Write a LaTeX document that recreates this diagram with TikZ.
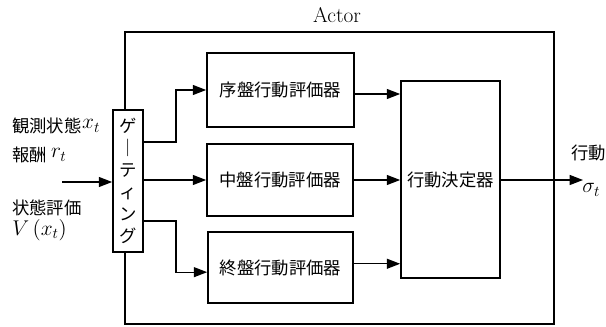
\RequirePackage{fix-cm}
\documentclass[tikz,border=0pt]{standalone}
\usepackage{fontspec}
\newfontfamily\jp{Noto Sans CJK JP}
\usetikzlibrary{arrows.meta}
\begin{document}
\begin{tikzpicture}[x=0.75pt,y=-0.75pt,
  box/.style={draw, line width=1.3pt, fill=white, inner sep=0pt},
  conn/.style={line width=0.9pt, -{Triangle[length=10pt,width=7.5pt]}},
  jtxt/.style={font=\jp\fontsize{13}{16.5}\selectfont},
  lbl/.style={jtxt, anchor=west, inner sep=0pt},
  mth/.style={anchor=west, inner sep=0pt, font=\fontsize{16}{19}\selectfont}]
\useasboundingbox (0,0) rectangle (606,327);
% outer Actor box
\node[draw, line width=1.3pt, minimum width=321.75pt, minimum height=219pt, inner sep=0pt] (actor) at (339.5,178) {};
\node[font=\fontsize{16}{19}\selectfont] (actorlbl) at (337,15) {Actor};
% gating
\node[box, minimum width=22.5pt, minimum height=106.5pt, jtxt, align=center] (gate) at (128,181)
  {ゲ\\｜\\テ\\ィ\\ン\\グ};
% evaluators
\node[box, minimum width=110.25pt, minimum height=55.5pt, jtxt] (e1) at (280.5,90) {序盤行動評価器};
\node[box, minimum width=109.5pt, minimum height=54pt, jtxt] (e2) at (280,180) {中盤行動評価器};
\node[box, minimum width=108.75pt, minimum height=53.25pt, jtxt] (e3) at (280.5,267.5) {終盤行動評価器};
% decision
\node[box, minimum width=74.25pt, minimum height=147.75pt, jtxt] (dec) at (450.5,179.5) {行動決定器};
% input labels
\node[lbl] (obs) at (12,126) {観測状態};
\node[mth] (obsx) at (obs.east) {$x_{t}$};
\node[lbl] (rew) at (12,155) {報酬};
\node[mth] (rewr) at (rew.east) {\,$r_{t}$};
\node[lbl] (val) at (12,208) {状態評価};
\node[mth] (vx) at (12,230) {$V\,(x_{t})$};
% output labels
\node[lbl] (act) at (571,153) {行動};
\node[mth] (sig) at (582,190) {$\sigma_{t}$};
% connectors
\coordinate (inbeg) at (62,182);
\draw[conn] (inbeg) -- (inbeg -| gate.west);
\coordinate (b1) at (176,142);
\coordinate (b3) at (176,221);
\draw[conn] (b1 -| gate.east) -- (b1) |- (e1.west);
\draw[conn] (gate.east |- e2.west) -- (e2.west);
\draw[conn] (b3 -| gate.east) -- (b3) |- ([yshift=-3.5pt]e3.west);
\draw[conn] ([yshift=-3pt]e1.east) -- ([yshift=-3pt]e1.east -| dec.west);
\draw[conn] (e2.east) -- (e2.east -| dec.west);
\draw[conn] ([yshift=2.8pt]e3.east) -- ([yshift=2.8pt]e3.east -| dec.west);
\coordinate (outend) at (583,180);
\draw[conn] (dec.east |- outend) -- (outend);
\end{tikzpicture}
\end{document}
